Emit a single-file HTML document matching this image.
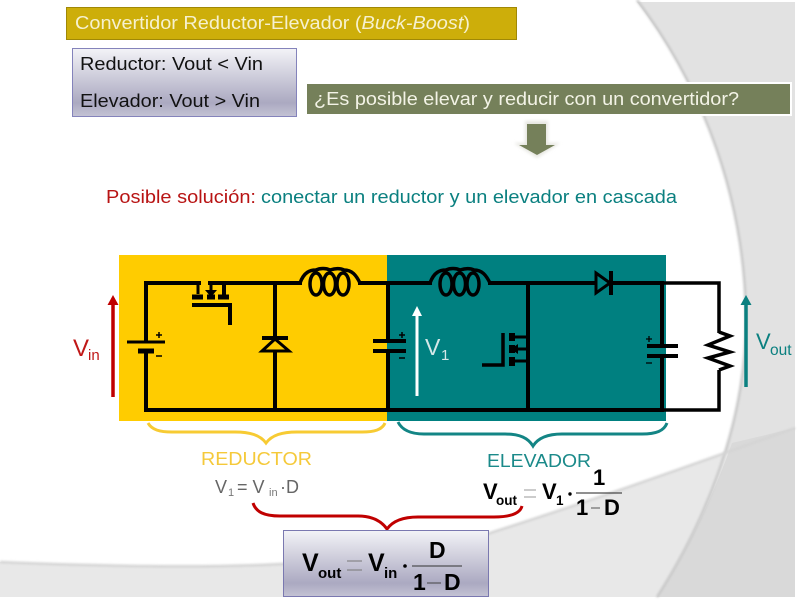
<!DOCTYPE html>
<html><head><meta charset="utf-8"><style>
html,body{margin:0;padding:0;background:#fff;width:800px;height:600px;overflow:hidden}
svg{display:block;filter:blur(.35px)}
text{font-family:"Liberation Sans",sans-serif}
.w{fill:none;stroke:#000;stroke-width:4;stroke-linecap:square}
.b{font-weight:bold;fill:#000}
</style></head><body>
<svg width="800" height="600" viewBox="0 0 800 600" xmlns="http://www.w3.org/2000/svg">
<defs>
<linearGradient id="g" x1="0" y1="0" x2="0" y2="1"><stop offset="0" stop-color="#f3f3f7"/><stop offset=".8" stop-color="#aba9c1"/><stop offset="1" stop-color="#c4c3d4"/></linearGradient>
<filter id="bl" x="-5%" y="-5%" width="110%" height="110%"><feGaussianBlur stdDeviation="1"/></filter>
<filter id="gl" x="-20%" y="-20%" width="140%" height="140%"><feGaussianBlur stdDeviation="1.5"/></filter>
</defs>
<!-- background -->
<path d="M637,2 C690,70 745,180 746,320 C746,430 700,530 657,597 L795,597 L795,2Z" fill="#e2e2e2"/>
<path d="M0,562 C120,567 220,568 300,563 C400,557 450,548 490,533 C600,498 700,462 795,428 L795,597 L0,597Z" fill="#e8e8e8"/>
<path d="M732,443 C712,500 685,555 657,597 L795,597 L795,428Z" fill="#d9d9d9"/>
<path d="M637,0 C690,70 745,180 746,320 C746,430 700,530 657,597" fill="none" stroke="#c8c8c8" stroke-width="2.500" filter="url(#bl)"/>
<path d="M0,562 C120,567 220,568 300,563 C400,557 450,548 490,533 C600,498 700,462 795,428" fill="none" stroke="#d4d4d4" stroke-width="2.500" filter="url(#bl)"/>

<!-- title -->
<rect x="66.500" y="7.500" width="450" height="32" fill="#cdae0a" stroke="#a08806"/>
<text x="75" y="29" font-size="18" fill="#f6f1cf" textLength="395" lengthAdjust="spacingAndGlyphs">Convertidor Reductor-Elevador (<tspan font-style="italic">Buck-Boost</tspan>)</text>

<!-- info box -->
<rect x="72.500" y="48.500" width="224" height="68" fill="url(#g)" stroke="#8483bb"/>
<text x="80" y="70" font-size="18" fill="#111" textLength="183" lengthAdjust="spacingAndGlyphs">Reductor: Vout &lt; Vin</text>
<text x="80" y="107" font-size="18" fill="#111" textLength="180" lengthAdjust="spacingAndGlyphs">Elevador: Vout &gt; Vin</text>

<!-- question -->
<rect x="306" y="83" width="485" height="32" fill="#75805a" stroke="#fff" stroke-width="2"/>
<text x="314" y="105" font-size="18" fill="#f3f3e6" textLength="425" lengthAdjust="spacingAndGlyphs">¿Es posible elevar y reducir con un convertidor?</text>

<!-- down arrow -->
<path d="M525,121 H548 V143 H560 L537,158 L514,143 H525Z" fill="#e6e6e0" filter="url(#gl)"/>
<path d="M527,124 H546 V145 H555 L537,155 L519,145 H527Z" fill="#75805a"/>

<!-- solution -->
<text x="106" y="203" font-size="18" fill="#b81414" textLength="150" lengthAdjust="spacingAndGlyphs">Posible solución:</text>
<text x="261" y="203" font-size="18" fill="#0b8080" textLength="416" lengthAdjust="spacingAndGlyphs">conectar un reductor y un elevador en cascada</text>

<!-- coloured regions -->
<rect x="119" y="255" width="268" height="166" fill="#ffcc00"/>
<rect x="387" y="255" width="279" height="166" fill="#008080"/>

<!-- wires -->
<path class="w" d="M199,283 H146 V340 M146,354 V410 H662 M210,283 H300 M224,283 V296"/>
<path class="w" d="M360,283 H430 M490,283 H595 M611,283 H662 M388,283 V339 M388,353 V410"/>
<path class="w" d="M275,283 V410 M528,283 V410 M662,283 V344 M662,358 V410"/>
<path d="M662,283 H719 V333 M719,370 V410 H662" fill="none" stroke="#000" stroke-width="3.500"/>

<!-- battery -->
<path d="M127,342 H165" stroke="#000" stroke-width="3"/>
<path d="M138,351 H154" stroke="#000" stroke-width="5"/>
<path d="M156,335 H162 M159,332 V338 M156,356 H162" stroke="#000" stroke-width="1.500"/>

<!-- MOSFET 1 -->
<path d="M198,283 V294 M211,283 V291" stroke="#000" stroke-width="3"/>
<path d="M205,290 H217 L211,297Z" fill="#000"/>
<path d="M192,297 H203 M207,297 H215 M218,297 H229" stroke="#000" stroke-width="5"/>
<path d="M192,305 H230 V325" fill="none" stroke="#000" stroke-width="4"/>

<!-- freewheel diode -->
<path d="M262,338 H288" stroke="#000" stroke-width="4"/>
<path d="M275,339 L262,351 H289Z" fill="#ffcc00" stroke="#000" stroke-width="3"/>

<!-- inductor 1 -->
<g fill="none" stroke="#000" stroke-width="3.500">
<path d="M300,283 C304,272 310,270 316,270 C320,268 326,268 330,270 C336,268 340,268 344,270 C352,270 356,275 360,283"/>
<ellipse cx="316" cy="284" rx="6" ry="11"/>
<ellipse cx="329.500" cy="284" rx="6" ry="11"/>
<ellipse cx="343" cy="284" rx="6" ry="11"/>
</g>

<!-- cap 1 -->
<path d="M373,341 H406 M373,351 H406" stroke="#000" stroke-width="4"/>
<path d="M399,335 H405 M402,332 V338 M399,358 H405" stroke="#000" stroke-width="1.500"/>

<!-- V1 arrow -->
<path d="M417,396 V314" stroke="#fff" stroke-width="3"/>
<path d="M417,306 L422,316 H412Z" fill="#fff"/>
<text x="425" y="355" font-size="23" fill="#d4e8e8">V</text>
<text x="441" y="360" font-size="15" fill="#d4e8e8">1</text>

<!-- inductor 2 -->
<g fill="none" stroke="#000" stroke-width="3.500">
<path d="M430,283 C434,272 440,270 446,270 C450,268 456,268 460,270 C466,268 470,268 474,270 C482,270 486,275 490,283"/>
<ellipse cx="446" cy="284" rx="6" ry="11"/>
<ellipse cx="459.500" cy="284" rx="6" ry="11"/>
<ellipse cx="473" cy="284" rx="6" ry="11"/>
</g>

<!-- MOSFET 2 -->
<path d="M510,337 H528 M510,361 H528 M516,349 H528" stroke="#000" stroke-width="3"/>
<path d="M511,349 L518,344 V354Z" fill="#000"/>
<path d="M512,333 V341 M512,345 V353 M512,357 V366" stroke="#000" stroke-width="6"/>
<path d="M503,333 V365 H482" fill="none" stroke="#000" stroke-width="3.500"/>

<!-- diode 2 -->
<path d="M596,273 L610,283 L596,293Z" fill="#008080" stroke="#000" stroke-width="3"/>
<path d="M611,271 V295" stroke="#000" stroke-width="4"/>

<!-- cap 2 -->
<path d="M647,346 H678 M647,356 H678" stroke="#000" stroke-width="4"/>
<path d="M646,339 H652 M649,336 V342 M646,363 H652" stroke="#000" stroke-width="1.300"/>

<!-- resistor -->
<path d="M719,332 L730,336 L708,345 L730,352 L708,358 L730,366 L719,370" fill="none" stroke="#000" stroke-width="3.500"/>

<!-- Vin -->
<path d="M113,397 V303" stroke="#c00000" stroke-width="3.500"/>
<path d="M113,295 L118.500,305 H107.500Z" fill="#c00000"/>
<text x="73" y="356" font-size="24" fill="#c01818">V</text>
<text x="88" y="360" font-size="15" fill="#c01818">in</text>

<!-- Vout -->
<path d="M746,387 V303" stroke="#0b8080" stroke-width="3.500"/>
<path d="M746,295 L751.500,305 H740.500Z" fill="#0b8080"/>
<text x="756" y="349" font-size="22" fill="#0b8080">V</text>
<text x="770" y="355" font-size="15.500" fill="#0b8080">out</text>

<!-- braces -->
<path d="M148,423 C152,430 160,432 172,432 H235 C250,432 260,435 266,443 C272,435 282,432 297,432 H362 C374,432 382,430 385,423" fill="none" stroke="#f7cb33" stroke-width="3"/>
<path d="M398,422 C402,430 410,434 424,434 H505 C520,434 528,438 533,446 C538,438 548,434 562,434 H642 C656,434 664,431 667,423" fill="none" stroke="#138585" stroke-width="3"/>
<path d="M253,503 C256,512 264,516 280,516 H358 C374,516 382,522 387,529 C392,522 402,517 418,517 H494 C510,517 520,514 522,506" fill="none" stroke="#c00000" stroke-width="3"/>

<!-- labels -->
<text x="201" y="465" font-size="18" fill="#f5c93a" textLength="111" lengthAdjust="spacingAndGlyphs">REDUCTOR</text>
<text x="487" y="467" font-size="18" fill="#1b8a8a" textLength="104" lengthAdjust="spacingAndGlyphs">ELEVADOR</text>
<text x="215" y="493" font-size="18" fill="#666">V</text>
<text x="228" y="496" font-size="11" fill="#777">1</text>
<text x="237" y="493" font-size="18" fill="#666">= V</text>
<text x="269" y="496" font-size="11" fill="#777">in</text>
<text x="280" y="493" font-size="18" fill="#666">·D</text>

<!-- elevador formula -->
<text class="b" x="483" y="499" font-size="22">V</text>
<text class="b" x="496" y="505" font-size="13.500">out</text>
<path d="M524,490 H536 M524,497 H536" stroke="#999" stroke-width="1"/>
<text class="b" x="542" y="499" font-size="22">V</text>
<text class="b" x="556" y="505" font-size="13.500">1</text>
<circle cx="570" cy="494" r="1.700" fill="#000"/>
<path d="M576,493 H622" stroke="#222" stroke-width="1"/>
<text class="b" x="593" y="485" font-size="22">1</text>
<text class="b" x="576" y="515" font-size="22">1</text>
<path d="M591,508 H600" stroke="#555" stroke-width="1"/>
<text class="b" x="604" y="515" font-size="22">D</text>

<!-- result -->
<rect x="283.500" y="530.500" width="205" height="66" fill="url(#g)" stroke="#7a78b0"/>
<text class="b" x="302" y="571" font-size="25">V</text>
<text class="b" x="318" y="578" font-size="15">out</text>
<path d="M347,561 H362 M347,570 H362" stroke="#777" stroke-width="1"/>
<text class="b" x="368" y="571" font-size="25">V</text>
<text class="b" x="384" y="578" font-size="15">in</text>
<circle cx="405" cy="566" r="1.800" fill="#000"/>
<path d="M412,566 H462" stroke="#333" stroke-width="1"/>
<text class="b" x="429" y="558" font-size="23">D</text>
<text class="b" x="413" y="590" font-size="23">1</text>
<path d="M427,583 H441" stroke="#444" stroke-width="1"/>
<text class="b" x="444" y="590" font-size="23">D</text>
</svg>
</body></html>
